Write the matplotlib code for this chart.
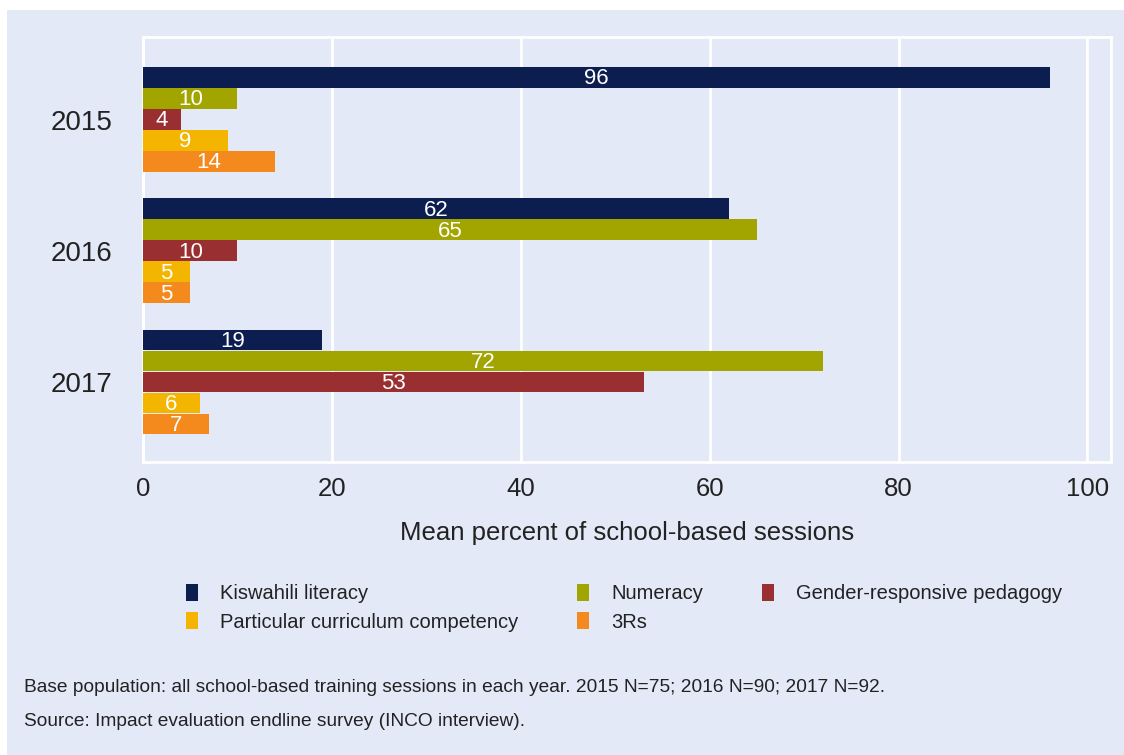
import numpy as np
import matplotlib.pyplot as plt
from matplotlib.patches import Rectangle, Patch

plt.rcParams['font.family'] = ['Liberation Sans', 'DejaVu Sans']

years = ["2015", "2016", "2017"]
series = ["Kiswahili literacy", "Numeracy", "Gender-responsive pedagogy",
          "Particular curriculum competency", "3Rs"]
kiswahili = [96, 62, 19]
numeracy = [10, 65, 72]
gender = [4, 10, 53]
curriculum = [9, 5, 6]
three_rs = [14, 5, 7]
values = [kiswahili, numeracy, gender, curriculum, three_rs]
colors = ["#0c1d4f", "#a2a500", "#9a2f31", "#f3b500", "#f4891e"]

bg = "#e3e9f7"
ink = "#222222"

fig = plt.figure(figsize=(11.24, 7.55), dpi=100)
fig.patch.set_facecolor("white")
fig.add_artist(Rectangle((7 / 1124, 0), 1, 1 - 10 / 755, transform=fig.transFigure,
                         facecolor=bg, edgecolor="none", zorder=-10))

ax = fig.add_axes([143 / 1124, 1 - 462 / 755, (1111 - 143) / 1124, (462 - 37) / 755])
ax.set_facecolor(bg)

h = 0.158
y = np.arange(len(years))
for i, (vals, col) in enumerate(zip(values, colors)):
    pos = y + (i - 2) * 0.16
    bars = ax.barh(pos, vals, height=h, color=col, zorder=3)
    for b, v in zip(bars, vals):
        ax.text(v / 2, b.get_y() + b.get_height() / 2 + 0.01, str(v), ha="center", va="center",
                color="white", fontsize=16, zorder=4)

ax.set_xlim(0, 102.5)
ax.set_ylim(2.61, -0.63)
ax.set_xticks([0, 20, 40, 60, 80, 100])
ax.set_yticks(y)
ax.set_yticklabels(years)
ax.tick_params(axis="y", length=0, labelsize=20, pad=22, colors=ink)
ax.tick_params(axis="x", length=0, labelsize=18.5, pad=11, colors=ink)
ax.grid(axis="x", color="white", linewidth=2, zorder=0)
for s in ax.spines.values():
    s.set_color("white")
    s.set_linewidth(2)
ax.set_xlabel("Mean percent of school-based sessions", fontsize=18.5, labelpad=14, color=ink)

# legend order gives rows: literacy / numeracy / gender, then curriculum / 3Rs
order = [0, 3, 1, 4, 2]
handles = [Patch(facecolor=colors[k], edgecolor="none") for k in order]
labels = [series[k] for k in order]
fig.legend(handles, labels, loc="upper left", bbox_to_anchor=(168 / 1124, 1 - 566 / 755),
           ncol=3, frameon=False, fontsize=14.5, handlelength=0.6, handleheight=0.9,
           handletextpad=1.1, columnspacing=2.9, labelspacing=0.45, labelcolor=ink)

fig.text(24 / 1124, 1 - 688 / 755,
         "Base population: all school-based training sessions in each year. 2015 N=75; 2016 N=90; 2017 N=92.",
         fontsize=13.8, va="center", color=ink)
fig.text(24 / 1124, 1 - 721 / 755, "Source: Impact evaluation endline survey (INCO interview).",
         fontsize=13.8, va="center", color=ink)

fig.savefig("out.png", dpi=100, facecolor=fig.get_facecolor())
